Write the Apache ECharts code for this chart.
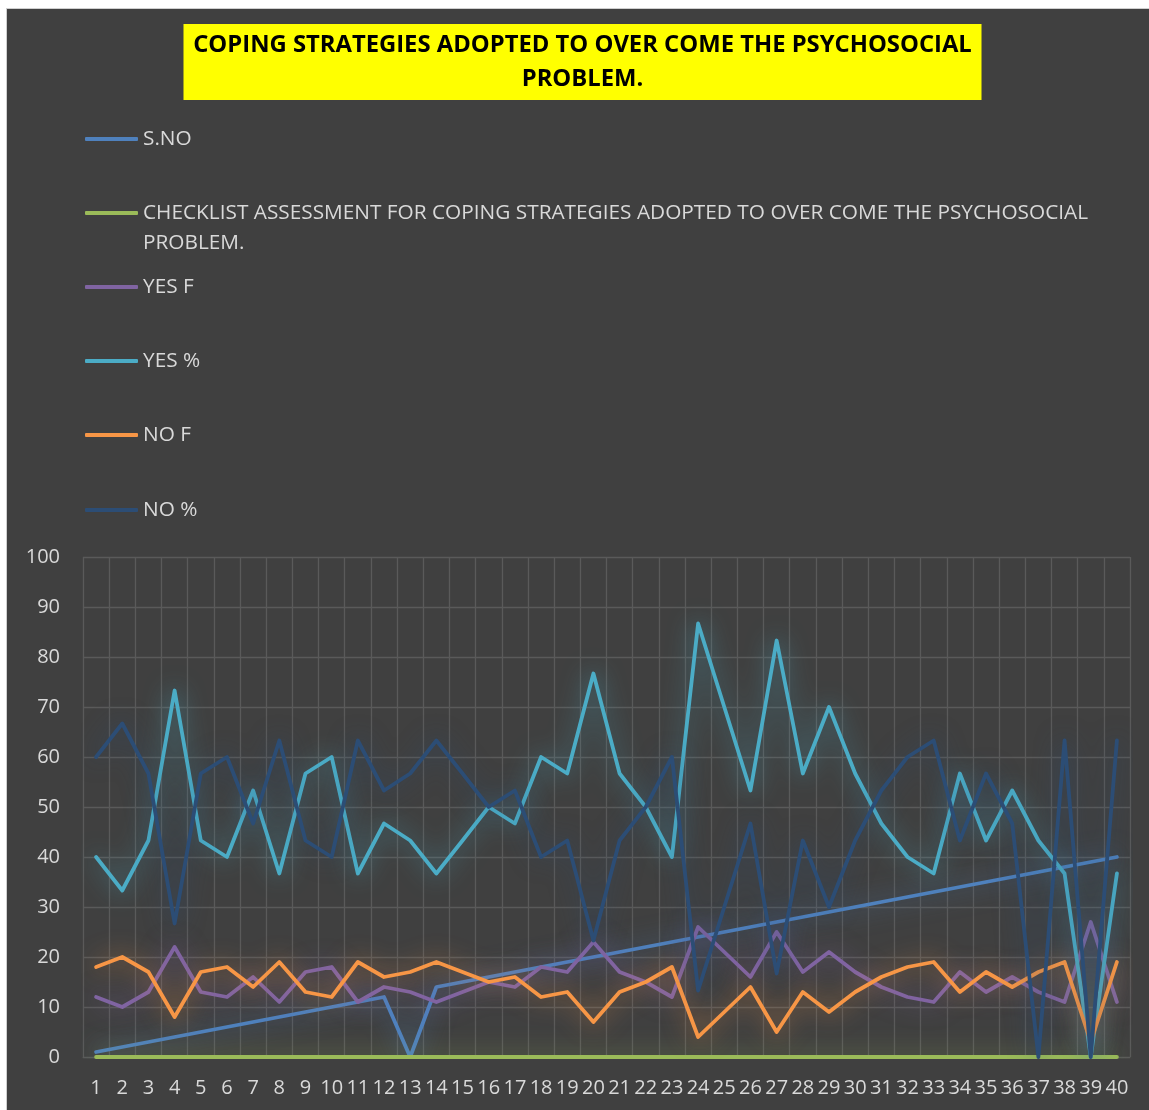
<!DOCTYPE html>
<html>
<head>
<meta charset="utf-8">
<script src="https://cdn.jsdelivr.net/npm/echarts@6/dist/echarts.min.js"></script>
<style>
  html, body { margin: 0; padding: 0; background: #ffffff; }
  #frame { position: absolute; left: 6px; top: 8px; width: 1143px; height: 1102px;
           border-left: 1px solid #cfcfcf; border-top: 1px solid #cfcfcf; box-sizing: border-box; }
  #chart { position: absolute; left: 7px; top: 9px; width: 1142px; height: 1101px; }
</style>
</head>
<body>
<div id="frame"></div>
<div id="chart"></div>
<script>
// ---------- data ----------
const categories = ['1','2','3','4','5','6','7','8','9','10','11','12','13','14','15','16','17','18','19','20',
                    '21','22','23','24','25','26','27','28','29','30','31','32','33','34','35','36','37','38','39','40'];
const yTicks = [0, 10, 20, 30, 40, 50, 60, 70, 80, 90, 100];

const sNo       = [1,2,3,4,5,6,7,8,9,10,11,12,0,14,15,16,17,18,19,20,21,22,23,24,25,26,27,28,29,30,31,32,33,34,35,36,37,38,39,40];
const checklist = [0,0,0,0,0,0,0,0,0,0,0,0,0,0,0,0,0,0,0,0,0,0,0,0,0,0,0,0,0,0,0,0,0,0,0,0,0,0,0,0];
const yesF      = [12,10,13,22,13,12,16,11,17,18,11,14,13,11,13,15,14,18,17,23,17,15,12,26,21,16,25,17,21,17,14,12,11,17,13,16,13,11,27,11];
const yesPct    = [40,33.3,43.3,73.3,43.3,40,53.3,36.7,56.7,60,36.7,46.7,43.3,36.7,43.3,50,46.7,60,56.7,76.7,56.7,50,40,86.7,70,53.3,83.3,56.7,70,56.7,46.7,40,36.7,56.7,43.3,53.3,43.3,36.7,0,36.7];
const noF       = [18,20,17,8,17,18,14,19,13,12,19,16,17,19,17,15,16,12,13,7,13,15,18,4,9,14,5,13,9,13,16,18,19,13,17,14,17,19,3,19];
const noPct     = [60,66.7,56.7,26.7,56.7,60,46.7,63.3,43.3,40,63.3,53.3,56.7,63.3,56.7,50,53.3,40,43.3,23.3,43.3,50,60,13.3,30,46.7,16.7,43.3,30,43.3,53.3,60,63.3,43.3,56.7,46.7,0,63.3,0,63.3];

const seriesNames = ['S.NO',
  'CHECKLIST ASSESSMENT FOR COPING STRATEGIES ADOPTED TO OVER COME THE PSYCHOSOCIAL PROBLEM.',
  'YES F', 'YES %', 'NO F', 'NO %'];
const seriesData = [sNo, checklist, yesF, yesPct, noF, noPct];
const colors = ['#4f81bd', '#9bbb59', '#8064a2', '#4bacc6', '#f79646', '#2c4d75'];
const glow = ['rgba(79,129,189,0.75)', 'rgba(155,187,89,0.75)', 'rgba(128,100,162,0.75)',
              'rgba(75,172,198,0.75)', 'rgba(247,150,70,0.75)', 'rgba(44,77,117,0.75)'];
const titleText = 'COPING STRATEGIES ADOPTED TO OVER COME THE PSYCHOSOCIAL\nPROBLEM.';

// ---------- chart ----------
const chart = echarts.init(document.getElementById('chart'), null, { renderer: 'canvas' });
const FONT = "'Open Sans', 'Noto Sans', sans-serif";
const legendCenters = [130, 204, 278, 352, 426, 501];

const legends = seriesNames.map((name, i) => {
  const two = i === 1;
  return {
    data: [name],
    orient: 'vertical',
    left: 78,
    top: two ? legendCenters[i] - 45 : legendCenters[i] - 12,
    padding: 0,
    icon: 'roundRect',
    itemWidth: 53,
    itemHeight: 4,
    selectedMode: false,
    formatter: two ? (n => '\n' + n.replace(' PROBLEM.', '\nPROBLEM.')) : undefined,
    textStyle: two
      ? { color: '#d9d9d9', fontFamily: FONT, fontSize: 20.8, lineHeight: 30 }
      : { color: '#d9d9d9', fontFamily: FONT, fontSize: 20.8, lineHeight: 24 }
  };
});

chart.setOption({
  animation: false,
  backgroundColor: '#404040',
  title: {
    text: titleText,
    left: 575.5 - 8,
    top: 15,
    textAlign: 'center',
    backgroundColor: '#ffff00',
    padding: [4, 8, 4, 8],
    textStyle: { color: '#000000', fontFamily: FONT, fontWeight: 'bold', fontSize: 23.8,
                 lineHeight: 34, width: 782, align: 'center' }
  },
  legend: legends,
  grid: { left: 76, right: 19, top: 548, bottom: 53, containLabel: false },
  xAxis: {
    type: 'category',
    data: categories,
    boundaryGap: true,
    axisTick: { show: false },
    axisLine: { show: true, lineStyle: { color: '#5a5a5a', width: 1 } },
    axisLabel: { interval: 0, color: '#d9d9d9', fontFamily: FONT, fontSize: 20, lineHeight: 22, margin: 20 },
    splitLine: { show: true, interval: 0, lineStyle: { color: '#5a5a5a', width: 1.3 } }
  },
  yAxis: {
    type: 'value',
    min: yTicks[0],
    max: yTicks[yTicks.length - 1],
    interval: yTicks[1] - yTicks[0],
    axisLine: { show: false },
    axisTick: { show: false },
    axisLabel: { color: '#d9d9d9', fontFamily: FONT, fontSize: 20, margin: 23 },
    splitLine: { show: true, lineStyle: { color: '#5a5a5a', width: 1.3 } }
  },
  series: seriesNames.map((name, i) => ({
    name: name,
    type: 'line',
    data: seriesData[i],
    symbol: 'none',
    color: colors[i],
    lineStyle: { color: colors[i], width: 3.8, shadowBlur: 24, shadowColor: glow[i], cap: 'round', join: 'round' },
    itemStyle: { color: colors[i] },
    z: 2 + i
  }))
});
</script>
</body>
</html>
